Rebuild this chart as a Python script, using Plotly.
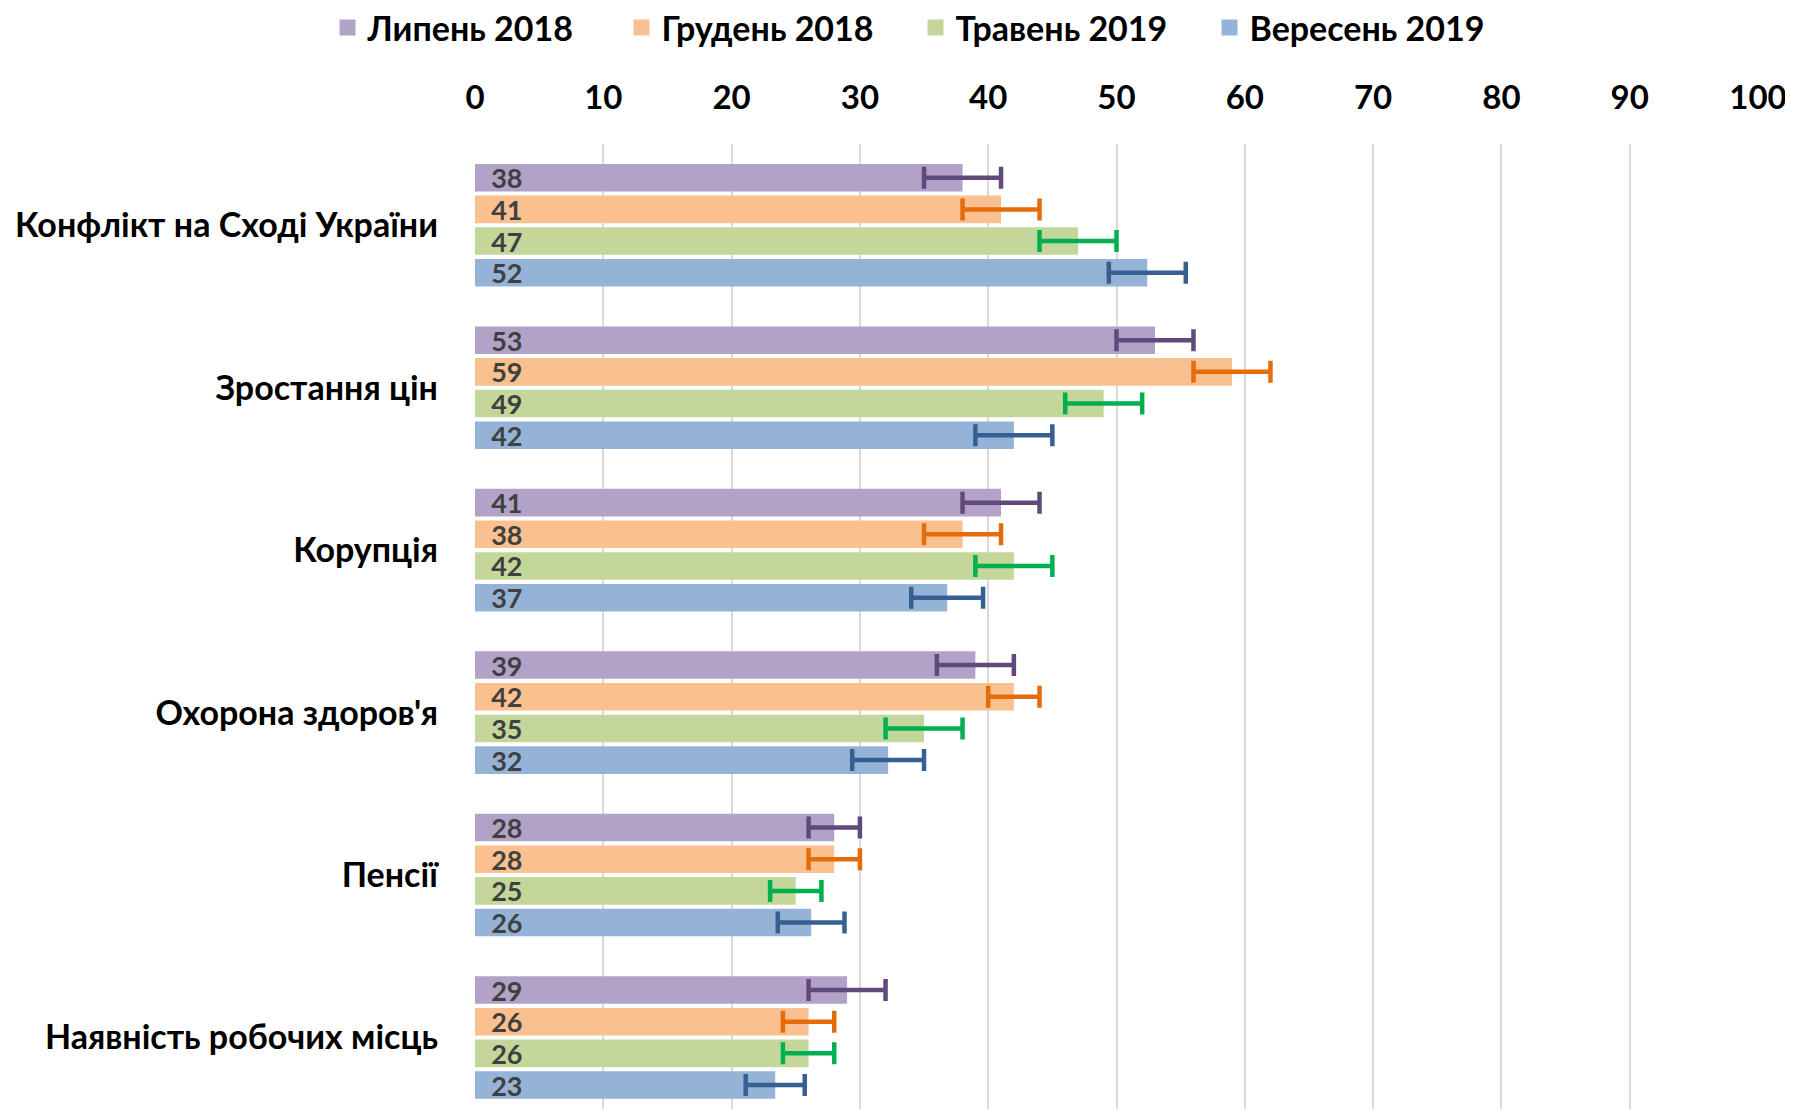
import plotly.graph_objects as go

categories = ["Конфлікт на Сході України", "Зростання цін", "Корупція",
              "Охорона здоров'я", "Пенсії", "Наявність робочих місць"]
series_names = ["Липень 2018", "Грудень 2018", "Травень 2019", "Вересень 2019"]

jul_2018 = [38, 53, 41, 39, 28, 29]
dec_2018 = [41, 59, 38, 42, 28, 26]
may_2019 = [47, 49, 42, 35, 25, 26]
sep_2019 = [52.4, 42, 36.8, 32.2, 26.2, 23.4]

err_jul_2018 = [3, 3, 3, 3, 2, 3]
err_dec_2018 = [3, 3, 3, 2, 2, 2]
err_may_2019 = [3, 3, 3, 3, 2, 2]
err_sep_2019 = [3, 3, 2.8, 2.8, 2.6, 2.3]

tick_vals = [0, 10, 20, 30, 40, 50, 60, 70, 80, 90, 100]

values = [jul_2018, dec_2018, may_2019, sep_2019]
errors = [err_jul_2018, err_dec_2018, err_may_2019, err_sep_2019]
bar_colors = ["#B3A2C7", "#FAC090", "#C4D79B", "#95B3D7"]
err_colors = ["#604A7B", "#E46C0A", "#00B050", "#376092"]

FONT = "Lato"

fig = go.Figure()
for name, vals, errs, bc, ec in zip(series_names, values, errors, bar_colors, err_colors):
    fig.add_trace(go.Bar(
        name=name,
        y=categories,
        x=vals,
        orientation="h",
        marker=dict(color=bc, line=dict(width=0)),
        error_x=dict(type="data", array=errs, symmetric=True,
                     color=ec, thickness=4.5, width=11),
        texttemplate="\u00a0\u00a0%{x:.0f}",
        textposition="inside",
        insidetextanchor="start",
        constraintext="none",
        textfont=dict(family=FONT, size=27, color="#404040", weight="bold"),
        hoverinfo="x+name",
        showlegend=False,
        legendgroup=name,
    ))

# legend-only entries with larger square swatches
for name, bc in zip(series_names, bar_colors):
    fig.add_trace(go.Scatter(
        name=name, x=[None], y=[None], mode="markers",
        marker=dict(symbol="square", size=21, color=bc),
        showlegend=True, legendgroup=name, hoverinfo="skip",
    ))

fig.update_layout(
    width=1785, height=1101,
    barmode="group",
    bargap=0.22,
    bargroupgap=0.13,
    plot_bgcolor="white",
    paper_bgcolor="white",
    margin=dict(l=467, r=35, t=136, b=0, autoexpand=False),
    font=dict(family=FONT, color="#000000"),
    showlegend=True,
    legend=dict(
        orientation="h",
        xref="container", yref="container",
        x=0.179, xanchor="left",
        y=0.982, yanchor="middle",
        font=dict(family=FONT, size=34, color="#000000", weight="bold"),
        entrywidth=249, entrywidthmode="pixels",
        traceorder="normal",
        bgcolor="rgba(0,0,0,0)",
    ),
    xaxis=dict(
        side="top",
        range=[0, 100],
        tickvals=tick_vals,
        ticktext=[str(v) for v in tick_vals],
        showgrid=True,
        gridcolor="#D9D9D9",
        gridwidth=1.5,
        zeroline=False,
        showline=False,
        ticks="",
        ticklabelstandoff=27,
        tickfont=dict(family=FONT, size=33, color="#000000", weight="bold"),
        fixedrange=True,
    ),
    yaxis=dict(
        range=[5.44, -0.5],
        showgrid=False,
        zeroline=False,
        showline=False,
        ticks="",
        ticklabelstandoff=36,
        tickfont=dict(family=FONT, size=34, color="#000000", weight="bold"),
        fixedrange=True,
    ),
)

fig.write_html("out.html")
